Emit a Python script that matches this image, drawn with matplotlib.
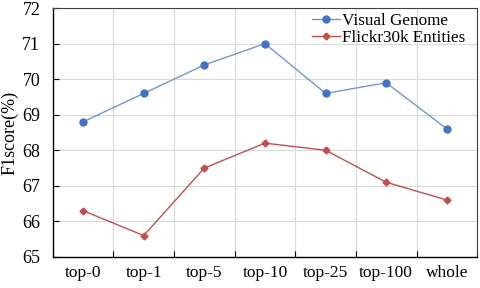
import matplotlib
matplotlib.use('Agg')
import matplotlib.pyplot as plt
from matplotlib.ticker import FixedLocator

plt.rcParams['font.family'] = ['Liberation Serif', 'DejaVu Serif']

categories = ['top-0', 'top-1', 'top-5', 'top-10', 'top-25', 'top-100', 'whole']
visual_genome = [68.8, 69.6, 70.4, 71.0, 69.6, 69.9, 68.6]
flickr30k = [66.3, 65.6, 67.5, 68.2, 68.0, 67.1, 66.6]
y_ticks = [65, 66, 67, 68, 69, 70, 71, 72]

fig = plt.figure(figsize=(4.8, 2.88), dpi=100)
ax = fig.add_axes([0.110, 0.108, 0.884, 0.864])

x = list(range(len(categories)))
ax.plot(x, visual_genome, color='#7099d0', lw=1.0, marker='o', ms=5,
        mfc='#4472c4', mec='#4472c4', label='Visual Genome')
ax.plot(x, flickr30k, color='#c0504d', lw=1.0, marker='D', ms=3.5,
        mfc='#c0504d', mec='#c0504d', label='Flickr30k Entities')

ax.set_xlim(-0.5, len(categories) - 0.5)
ax.set_ylim(65, 72)
ax.set_yticks(y_ticks)
ax.set_xticks(x)
ax.set_xticklabels(categories)
ax.xaxis.set_minor_locator(FixedLocator([i - 0.5 for i in range(len(categories) + 1)]))
ax.tick_params(axis='x', which='major', length=0, pad=6, labelsize=12.5)
ax.tick_params(axis='x', which='minor', length=4, direction='in', width=0.8)
ax.tick_params(axis='y', length=4, direction='in', width=0.8, labelsize=13, pad=9)

ax.grid(True, axis='y', which='major', color='#d9d9d9', lw=0.8)
ax.grid(True, axis='x', which='minor', color='#d9d9d9', lw=0.8)
ax.set_axisbelow(True)

for s in ['left', 'bottom']:
    ax.spines[s].set_color('#000000')
    ax.spines[s].set_linewidth(1.0)
for s in ['top', 'right']:
    ax.spines[s].set_color('#404040')
    ax.spines[s].set_linewidth(0.8)

ax.set_ylabel('F1score(%)', fontsize=13, labelpad=3)

ax.legend(loc='upper right', frameon=False, fontsize=12.3, handlelength=1.6,
          borderaxespad=0.0, borderpad=0.3, labelspacing=0.05, handletextpad=0.15,
          bbox_to_anchor=(0.985, 1.0))

fig.savefig('out.png', dpi=100)
